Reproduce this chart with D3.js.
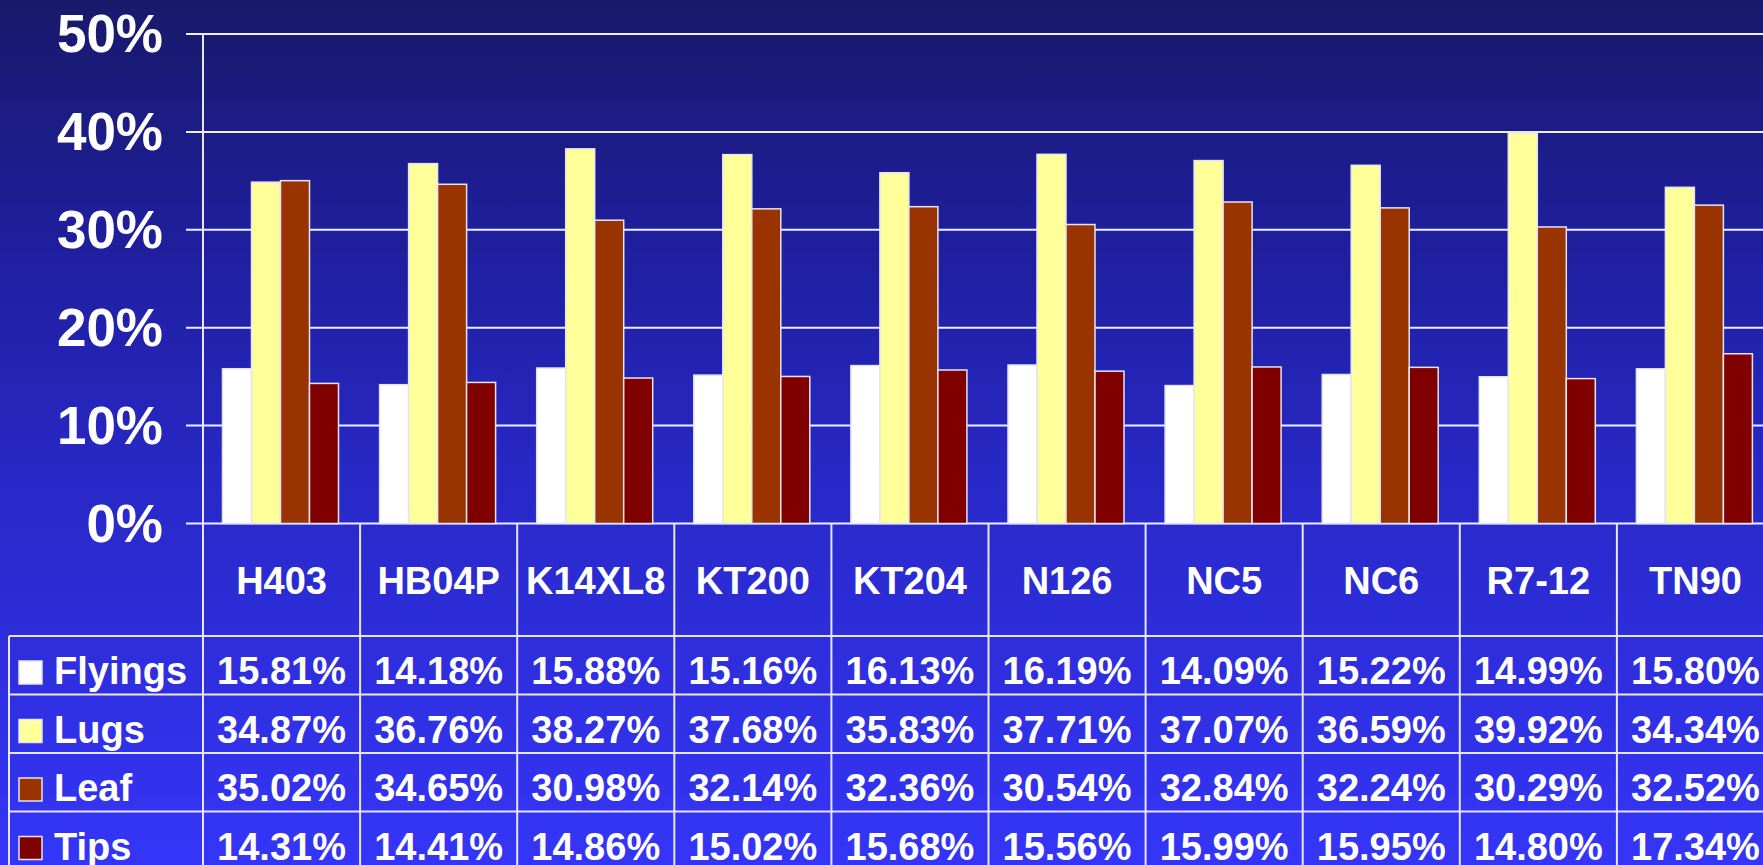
<!DOCTYPE html>
<html>
<head>
<meta charset="utf-8">
<script src="https://cdn.jsdelivr.net/npm/d3@7"></script>
<style>
  body { margin: 0; padding: 0; overflow: hidden; }
  svg text { font-family: "Liberation Sans", Arial, sans-serif; font-weight: bold; fill: #fff; }
</style>
</head>
<body>
<div id="chart"></div>
<script>
// data
const categories = ["H403", "HB04P", "K14XL8", "KT200", "KT204", "N126", "NC5", "NC6", "R7-12", "TN90"];
const seriesNames = ["Flyings", "Lugs", "Leaf", "Tips"];
const flyings = [15.81, 14.18, 15.88, 15.16, 16.13, 16.19, 14.09, 15.22, 14.99, 15.80];
const lugs = [34.87, 36.76, 38.27, 37.68, 35.83, 37.71, 37.07, 36.59, 39.92, 34.34];
const leaf = [35.02, 34.65, 30.98, 32.14, 32.36, 30.54, 32.84, 32.24, 30.29, 32.52];
const tips = [14.31, 14.41, 14.86, 15.02, 15.68, 15.56, 15.99, 15.95, 14.80, 17.34];
const yTicks = [0, 10, 20, 30, 40, 50];
const colors = ["#ffffff", "#ffff99", "#993300", "#800000"];

const seriesValues = [flyings, lugs, leaf, tips];

let width = 1763,
    height = 865;
let svg = d3.select("div#chart").append("svg")
            .attr("width", width)
            .attr("height", height);

// background gradient
let defs = svg.append("defs");
let bg = defs.append("linearGradient")
  .attr("id", "bg-gradient")
  .attr("x1", "0%").attr("y1", "0%")
  .attr("x2", "0%").attr("y2", "100%");
bg.append("stop").attr("offset", "0%").attr("stop-color", "#19196b");
bg.append("stop").attr("offset", "30%").attr("stop-color", "#1f1fa0");
bg.append("stop").attr("offset", "55%").attr("stop-color", "#2828c6");
bg.append("stop").attr("offset", "100%").attr("stop-color", "#3535f8");
svg.append("rect")
  .attr("width", width)
  .attr("height", height)
  .style("fill", "url(#bg-gradient)");

let plotLeft = 203,
    colW = 157.1,
    plotTop = 34,
    plotBottom = 523.5;

let y = d3.scaleLinear().domain([0, 50]).range([plotBottom, plotTop]);
let x = d3.scaleBand().domain(categories).range([plotLeft, plotLeft + colW * categories.length]);
let xs = d3.scaleBand().domain(seriesNames).range([19.5, 135.5]);

// gridlines + tick stubs
svg.append("g").selectAll("line")
  .data(yTicks)
  .enter().append("line")
  .attr("x1", 186)
  .attr("x2", width)
  .attr("y1", function(d) { return y(d); })
  .attr("y2", function(d) { return y(d); })
  .style("stroke", "#eeeeff")
  .style("stroke-width", 2);

// y labels
svg.append("g").selectAll("text")
  .data(yTicks)
  .enter().append("text")
  .attr("x", 163)
  .attr("y", function(d) { return y(d) + 18; })
  .attr("text-anchor", "end")
  .style("font-size", "53px")
  .text(function(d) { return d + "%"; });

// bars
let groups = svg.append("g").selectAll("g")
  .data(categories)
  .enter().append("g")
  .attr("transform", function(d) { return "translate(" + x(d) + ",0)"; });

groups.selectAll("rect")
  .data(function(d, i) {
    return seriesNames.map(function(s, j) { return {s: s, v: seriesValues[j][i], c: colors[j]}; });
  })
  .enter().append("rect")
  .attr("x", function(d) { return xs(d.s); })
  .attr("width", xs.bandwidth())
  .attr("y", function(d) { return y(d.v); })
  .attr("height", function(d) { return plotBottom - y(d.v); })
  .style("fill", function(d) { return d.c; })
  .style("stroke", "#e4e4f4")
  .style("stroke-width", 1.5);

// data table
let headTop = plotBottom,
    headBottom = 636,
    rowH = 58.5,
    tableLeft = 9,
    tableBottom = headBottom + rowH * seriesNames.length;

let lineStyle = function(sel) {
  sel.style("stroke", "#e6e6ff").style("stroke-width", 2);
};

// horizontal rules
svg.append("g").selectAll("line")
  .data(d3.range(seriesNames.length + 1))
  .enter().append("line")
  .attr("x1", tableLeft)
  .attr("x2", width)
  .attr("y1", function(d) { return headBottom + d * rowH; })
  .attr("y2", function(d) { return headBottom + d * rowH; })
  .call(lineStyle);

// vertical rules
let colEdges = categories.map(function(c) { return x(c); }).concat([x.range()[1]]);
svg.append("g").selectAll("line")
  .data(colEdges)
  .enter().append("line")
  .attr("x1", function(d) { return d; })
  .attr("x2", function(d) { return d; })
  .attr("y1", function(d, i) { return i === 0 ? plotTop : headTop; })
  .attr("y2", tableBottom)
  .call(lineStyle);
svg.append("line")
  .attr("x1", tableLeft).attr("x2", tableLeft)
  .attr("y1", headBottom).attr("y2", tableBottom)
  .call(lineStyle);

// category header
svg.append("g").selectAll("text")
  .data(categories)
  .enter().append("text")
  .attr("x", function(d) { return x(d) + colW / 2; })
  .attr("y", (headTop + headBottom) / 2 + 14)
  .attr("text-anchor", "middle")
  .style("font-size", "38px")
  .text(function(d) { return d; });

// legend keys + row labels
let rows = svg.append("g").selectAll("g")
  .data(seriesNames)
  .enter().append("g")
  .attr("transform", function(d, i) { return "translate(0," + (headBottom + i * rowH) + ")"; });

rows.append("rect")
  .attr("x", 19)
  .attr("y", 25)
  .attr("width", 23)
  .attr("height", 23)
  .style("fill", function(d, i) { return colors[i]; })
  .style("stroke", "#e4e4f4")
  .style("stroke-width", 1.5);

rows.append("text")
  .attr("x", 54)
  .attr("y", 48)
  .style("font-size", "38px")
  .text(function(d) { return d; });

rows.selectAll("text.val")
  .data(function(d, i) { return seriesValues[i]; })
  .enter().append("text")
  .attr("class", "val")
  .attr("x", function(d, i) { return x(categories[i]) + colW / 2; })
  .attr("y", 48)
  .attr("text-anchor", "middle")
  .style("font-size", "38px")
  .text(function(d) { return d.toFixed(2) + "%"; });
</script>
</body>
</html>
